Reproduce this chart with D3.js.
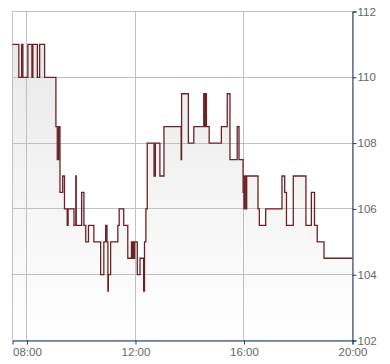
<!DOCTYPE html>
<html>
<head>
<meta charset="utf-8">
<script src="https://cdn.jsdelivr.net/npm/d3@7"></script>
<style>
body { margin: 0; background: #fff; }
text { font-family: "Liberation Sans", Arial, sans-serif; }
</style>
</head>
<body>
<svg width="390" height="364"></svg>
<script>
// Data (time of change, price from then on)
var times = ["07:28", "07:42", "07:48", "07:51", "08:02", "08:11", "08:13", "08:23", "08:28", "08:39",
    "09:04", "09:07", "09:10", "09:13", "09:19", "09:23", "09:29", "09:31", "09:44", "09:48",
    "09:49", "10:01", "10:06", "10:10", "10:16", "10:28", "10:43", "10:50", "10:54", "10:57",
    "10:59", "11:00", "11:05", "11:21", "11:24", "11:34", "11:43", "11:51", "11:53", "11:54",
    "11:56", "11:58", "12:04", "12:10", "12:18", "12:20", "12:23", "12:26", "12:41", "12:44",
    "12:54", "13:03", "13:41", "13:42", "13:57", "14:09", "14:31", "14:33", "14:34", "14:35",
    "14:36", "14:37", "14:43", "15:10", "15:23", "15:29", "15:45", "15:49", "15:58", "16:00",
    "16:01", "16:04", "16:06", "16:31", "16:34", "16:48", "17:24", "17:30", "17:34", "17:49",
    "18:17", "18:29", "18:36", "18:42", "18:57", "20:00"];
var prices = [111, 110, 111, 110, 111, 110, 111, 110, 111, 110,
    108.5, 107.5, 108.5, 106.5, 107, 106, 105.5, 106, 105.5, 107,
    105.5, 106.5, 105.5, 105, 105.5, 105, 104, 105, 105.5, 105,
    103.5, 104, 105, 105.5, 106, 105.5, 104.5, 105, 104.5, 105,
    104.5, 105, 104, 104.5, 103.5, 105, 106, 108, 107, 108,
    107, 108.5, 107.5, 109.5, 108, 108.5, 109.5, 108.5, 109.5, 108.5,
    109.5, 108.5, 108, 108.5, 109.5, 107.5, 108.5, 107.5, 106.5, 106,
    107, 106, 107, 106, 105.5, 106, 107, 106.5, 105.5, 107,
    105.5, 106.5, 105.5, 105, 104.5, 104.5];

var yTicks = [102, 104, 106, 108, 110, 112];
var xTicks = ["08:00", "12:00", "16:00", "20:00"];

var parseTime = d3.timeParse("%H:%M");

var svg = d3.select("svg"),
    margin = {top: 11, right: 38, bottom: 24, left: 12},
    width = +svg.attr("width") - margin.left - margin.right,
    height = +svg.attr("height") - margin.top - margin.bottom;

var data = times.map(function (t, i) { return {t: parseTime(t), v: prices[i]}; });

var x = d3.scaleTime()
    .domain([parseTime("07:28"), parseTime("20:00")])
    .range([0, width]);
var y = d3.scaleLinear()
    .domain([102, 112])
    .range([height, 0]);

// gradient for the area under the line
var grad = svg.append("defs").append("linearGradient")
    .attr("id", "fillGrad")
    .attr("gradientUnits", "userSpaceOnUse")
    .attr("x1", 0).attr("y1", y(111))
    .attr("x2", 0).attr("y2", height);
grad.append("stop").attr("offset", "0%").attr("stop-color", "#e9e9e9");
grad.append("stop").attr("offset", "100%").attr("stop-color", "#ffffff");

var g = svg.append("g")
    .attr("transform", "translate(" + (margin.left + 0.5) + "," + (margin.top + 0.5) + ")");

// area
g.append("path")
    .datum(data)
    .attr("fill", "url(#fillGrad)")
    .attr("d", d3.area()
        .curve(d3.curveStepAfter)
        .x(function (d) { return x(d.t); })
        .y0(height)
        .y1(function (d) { return y(d.v); }));

// grid lines
g.append("g")
    .selectAll("line.h")
    .data(yTicks)
    .enter().append("line")
    .attr("x1", 0).attr("x2", width)
    .attr("y1", function (d) { return Math.round(y(d)); })
    .attr("y2", function (d) { return Math.round(y(d)); })
    .attr("stroke", "#c0c0c0");
g.append("g")
    .selectAll("line.v")
    .data(xTicks)
    .enter().append("line")
    .attr("x1", function (d) { return Math.round(x(parseTime(d))); })
    .attr("x2", function (d) { return Math.round(x(parseTime(d))); })
    .attr("y1", 0).attr("y2", height)
    .attr("stroke", "#c0c0c0");
// left border
g.append("line")
    .attr("x1", 0).attr("x2", 0)
    .attr("y1", 0).attr("y2", height)
    .attr("stroke", "#c0c0c0");

// price line
g.append("path")
    .datum(data)
    .attr("fill", "none")
    .attr("stroke", "#6b2226")
    .attr("stroke-width", 1.3)
    .attr("d", d3.line()
        .curve(d3.curveStepAfter)
        .x(function (d) { return x(d.t); })
        .y(function (d) { return y(d.v); }));

// axes
var yAxis = g.append("g")
    .attr("transform", "translate(" + Math.round(width) + ",0)")
    .call(d3.axisRight(y).tickValues(yTicks).tickSize(4).tickPadding(1).tickFormat(d3.format("d")));
var xAxis = g.append("g")
    .attr("transform", "translate(0," + Math.round(height) + ")")
    .call(d3.axisBottom(x).tickValues(xTicks.map(parseTime)).tickSize(4).tickPadding(3)
        .tickFormat(d3.timeFormat("%H:%M")));

[yAxis, xAxis].forEach(function (a) {
    a.select(".domain").attr("stroke", "#1c3a6c");
    a.selectAll(".tick line").attr("stroke", "#1c3a6c");
    a.selectAll(".tick text")
        .attr("fill", "#666")
        .style("font-size", "11.5px")
        .style("font-family", "'Liberation Sans', Arial, sans-serif");
});
</script>
</body>
</html>
